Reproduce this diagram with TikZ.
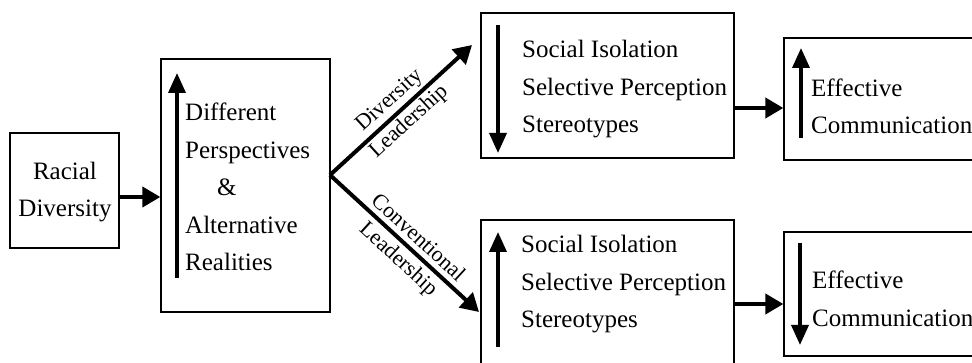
\documentclass[tikz,border=0pt]{standalone}
\usepackage{fontspec}
\setmainfont{Liberation Serif}
\usetikzlibrary{arrows.meta}
\begin{document}
\begin{tikzpicture}[x=1pt,y=-1pt,
  box/.style={draw, line width=1.3pt, inner sep=0pt},
  txt/.style={inner sep=0pt, align=left, anchor=west, font=\fontsize{25}{37.5}\selectfont},
  lab/.style={inner sep=0pt, align=center, font=\fontsize{22}{29}\selectfont},
  conn/.style={line width=4pt, -{Triangle[length=18pt,width=20pt]}},
  inarr/.style={line width=3.5pt, -{Triangle[length=20pt,width=17pt]}}]
\useasboundingbox (0,0) rectangle (972,363);
\clip (0,0) rectangle (972,363);
% boxes
\node[box, minimum width=109pt, minimum height=115pt] (rd) at (64.5,190.5) {};
\node[box, minimum width=169pt, minimum height=253pt] (mid) at (245.5,185.5) {};
\node[box, minimum width=253pt, minimum height=145pt] (s1) at (607.5,85.5) {};
\node[box, minimum width=216pt, minimum height=122pt] (e1) at (892,99) {};
\node[box, minimum width=253pt, minimum height=160pt] (s2) at (607.5,300) {};
\node[box, minimum width=216pt, minimum height=124pt] (e2) at (892,294) {};
% texts
\node[txt, align=center, anchor=center] (rdt) at (65,192) {Racial\\Diversity};
\node[txt] (midt) at (185,187) {Different\\Perspectives\\\hspace*{32pt}\&\\Alternative\\Realities};
\node[txt] (s1t) at (522,89.5) {Social Isolation\\Selective Perception\\Stereotypes};
\node[txt] (e1t) at (811,106.5) {Effective\\Communication};
\node[txt] (s2t) at (521,284.5) {Social Isolation\\Selective Perception\\Stereotypes};
\node[txt] (e2t) at (812,299) {Effective\\Communication};
% inner arrows
\coordinate (ma) at (177,278); \coordinate (mb) at (177,73);
\coordinate (s1a) at (498,25); \coordinate (s1b) at (498,153);
\coordinate (e1a) at (801,138); \coordinate (e1b) at (801,48);
\coordinate (s2a) at (498,347); \coordinate (s2b) at (498,232);
\coordinate (e2a) at (800,243); \coordinate (e2b) at (800,345);
\draw[inarr] (ma) -- (mb);
\draw[inarr] (s1a) -- (s1b);
\draw[inarr] (e1a) -- (e1b);
\draw[inarr] (s2a) -- (s2b);
\draw[inarr] (e2a) -- (e2b);
% connectors
\draw[conn] (rd.east |- 0,197) -- (mid.west |- 0,197);
\draw[conn] (s1.east |- 0,108) -- (e1.west |- 0,108);
\draw[conn] (s2.east |- 0,304) -- (e2.west |- 0,304);
\coordinate (br) at (330,175);
\coordinate (t1) at (472,45);
\coordinate (t2) at (479,312);
\draw[conn] (br) -- (t1) node[lab, pos=0.49, sloped] {Diversity\\Leadership};
\draw[conn] (br) -- (t2) node[lab, pos=0.53, sloped, yshift=-2pt] {Conventional\\Leadership};
\end{tikzpicture}
\end{document}
